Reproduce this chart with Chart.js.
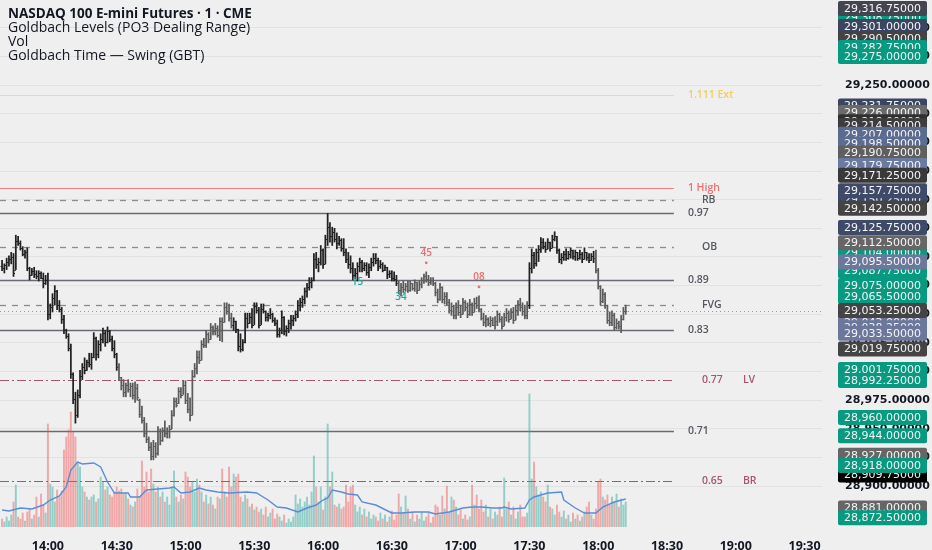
<!DOCTYPE html>
<html>
<head>
<meta charset="utf-8">
<script src="https://cdn.jsdelivr.net/npm/chart.js@4.4.1/dist/chart.umd.min.js"></script>
<style>
  html, body { margin: 0; padding: 0; background: #efefef; }
  #wrap { position: relative; width: 932px; height: 550px; }
  #legend { position: absolute; left: 8px; top: 6px; font: 14px 'Open Sans', sans-serif; color: #131722; line-height: 14px; pointer-events: none; }
  #legend .title { font-weight: 700; font-size: 13.5px; }
</style>
</head>
<body>
<div id="wrap">
  <canvas id="chart" width="932" height="550"></canvas>
  <div id="legend">
    <div class="title">NASDAQ 100 E-mini Futures · 1 · CME</div>
    <div>Goldbach Levels (PO3 Dealing Range)</div>
    <div>Vol</div>
    <div>Goldbach Time — Swing (GBT)</div>
  </div>
</div>
<script>
// 1-minute bars, first bar at 13:40 (index = minutes after 13:40)
const opens = [
  29092,29090,29093,29096,29098,29100,29089,29114,29112,29108,
  29103,29104,29090,29084,29088,29085,29083,29086,29082,29077,
  29080,29050,29056,29064,29070,29058,29055,29046,29036,29031,
  29021,28998,28976,28962,28980,28996,29004,29001,29008,29007,
  29013,29029,29015,29024,29028,29034,29026,29035,29028,29021,
  29015,29004,28995,28988,28982,28988,28985,28987,28980,28986,
  28975,28963,28958,28946,28941,28934,28926,28935,28929,28948,
  28940,28949,28946,28948,28950,28962,28974,28973,28983,28980,
  28988,28975,28967,28962,28996,29003,29013,29010,29024,29023,
  29033,29028,29039,29035,29038,29032,29044,29043,29056,29053,
  29047,29041,29044,29037,29022,29020,29026,29047,29042,29048,
  29041,29057,29054,29041,29055,29053,29048,29049,29050,29045,
  29042,29033,29036,29048,29035,29038,29042,29045,29047,29050,
  29058,29061,29063,29070,29074,29078,29080,29098,29094,29096,
  29106,29094,29116,29126,29118,29122,29116,29112,29115,29108,
  29104,29098,29094,29090,29084,29086,29092,29096,29090,29093,
  29087,29091,29096,29099,29097,29092,29094,29089,29091,29085,
  29086,29082,29081,29077,29071,29074,29072,29075,29071,29077,
  29073,29078,29071,29076,29080,29083,29081,29078,29080,29077,
  29069,29063,29074,29063,29066,29061,29054,29057,29049,29056,
  29052,29050,29061,29056,29050,29059,29052,29060,29058,29055,
  29047,29043,29046,29042,29045,29041,29044,29050,29046,29040,
  29048,29051,29046,29052,29045,29054,29059,29056,29053,29049,
  29058,29090,29102,29095,29104,29107,29113,29110,29107,29113,
  29108,29116,29118,29106,29098,29100,29103,29099,29103,29106,
  29101,29104,29099,29103,29098,29104,29100,29097,29101,29099,
  29089,29075,29062,29068,29058,29045,29043,29049,29039,29042,
  29040,29046,29053
];
const highs = [
  29097,29094,29099,29101,29104,29103,29119,29118,29114,29109,
  29106,29108,29091,29090,29091,29088,29088,29087,29086,29084,
  29086,29059,29068,29075,29071,29062,29056,29049,29037,29033,
  29024,28999,28982,28984,29001,29007,29012,29010,29016,29016,
  29034,29030,29027,29033,29038,29036,29039,29036,29031,29027,
  29016,29007,28995,28993,28990,28993,28990,28990,28991,28989,
  28976,28970,28960,28955,28943,28938,28940,28938,28952,28950,
  28951,28957,28951,28953,28966,28977,28977,28986,28986,28992,
  28992,28981,28977,29001,29007,29018,29018,29027,29029,29036,
  29034,29042,29040,29042,29040,29047,29047,29060,29060,29059,
  29051,29047,29044,29037,29033,29028,29051,29051,29051,29055,
  29060,29060,29056,29059,29059,29053,29051,29055,29051,29047,
  29045,29038,29053,29048,29040,29045,29049,29049,29053,29062,
  29064,29066,29073,29077,29082,29082,29103,29104,29099,29110,
  29107,29119,29138,29130,29126,29125,29121,29118,29116,29116,
  29107,29104,29101,29095,29090,29095,29099,29097,29095,29095,
  29094,29099,29103,29103,29099,29097,29095,29093,29091,29088,
  29088,29087,29084,29079,29077,29079,29077,29079,29079,29077,
  29080,29078,29079,29082,29085,29087,29084,29082,29082,29078,
  29072,29077,29074,29069,29069,29063,29060,29058,29060,29062,
  29058,29064,29062,29060,29063,29060,29064,29065,29066,29055,
  29051,29049,29047,29048,29047,29048,29053,29051,29048,29051,
  29055,29053,29055,29056,29058,29062,29064,29060,29058,29061,
  29095,29107,29104,29107,29110,29117,29116,29113,29116,29113,
  29119,29122,29118,29107,29103,29105,29107,29105,29108,29106,
  29106,29104,29106,29104,29108,29104,29103,29103,29105,29106,
  29090,29075,29072,29069,29058,29052,29053,29051,29046,29044,
  29049,29056,29058
];
const lows = [
  29088,29086,29089,29092,29094,29083,29089,29110,29106,29101,
  29099,29088,29080,29084,29082,29081,29079,29081,29073,29076,
  29045,29046,29052,29058,29054,29052,29042,29033,29029,29018,
  28994,28972,28955,28960,28977,28993,28998,29001,29004,29002,
  29012,29010,29012,29018,29025,29022,29025,29026,29018,29012,
  29001,28992,28984,28978,28978,28982,28978,28976,28973,28975,
  28960,28955,28943,28938,28931,28923,28923,28925,28927,28936,
  28939,28943,28942,28942,28950,28961,28969,28972,28977,28980,
  28972,28964,28957,28962,28995,28998,29007,29010,29021,29021,
  29025,29028,29032,29032,29030,29027,29026,29043,29050,29044,
  29038,29036,29034,29018,29017,29018,29025,29038,29042,29038,
  29041,29051,29038,29041,29051,29044,29044,29046,29043,29040,
  29030,29030,29033,29032,29031,29034,29037,29040,29044,29047,
  29053,29056,29059,29065,29071,29073,29079,29090,29087,29093,
  29090,29094,29110,29113,29110,29113,29107,29110,29105,29101,
  29095,29090,29086,29080,29081,29079,29087,29087,29088,29084,
  29082,29088,29092,29094,29088,29090,29087,29088,29081,29082,
  29079,29079,29075,29068,29066,29069,29070,29069,29070,29071,
  29070,29068,29071,29073,29077,29078,29075,29076,29075,29066,
  29060,29062,29060,29059,29058,29051,29049,29046,29046,29049,
  29047,29050,29053,29047,29049,29049,29052,29055,29052,29045,
  29040,29039,29040,29039,29040,29037,29040,29043,29037,29040,
  29044,29043,29046,29042,29045,29049,29053,29049,29046,29046,
  29055,29086,29090,29092,29096,29104,29107,29104,29107,29105,
  29108,29114,29103,29095,29094,29097,29097,29098,29099,29098,
  29097,29097,29098,29095,29098,29097,29095,29097,29095,29086,
  29072,29058,29060,29055,29042,29040,29040,29036,29037,29037,
  29034,29045,29050
];
const closes = [
  29090,29093,29096,29098,29100,29086,29114,29112,29108,29103,
  29104,29090,29084,29088,29085,29083,29086,29082,29077,29080,
  29050,29056,29064,29070,29058,29055,29046,29036,29031,29021,
  28998,28976,28962,28980,28996,29004,29001,29008,29007,29013,
  29029,29015,29024,29028,29034,29026,29035,29028,29021,29015,
  29004,28995,28988,28982,28988,28985,28987,28980,28986,28978,
  28963,28958,28946,28941,28934,28926,28935,28929,28948,28940,
  28949,28946,28948,28950,28962,28974,28971,28983,28980,28988,
  28975,28967,28962,28996,29003,29013,29010,29024,29023,29033,
  29028,29039,29035,29038,29032,29044,29043,29056,29053,29047,
  29041,29044,29037,29022,29020,29026,29047,29042,29048,29041,
  29057,29054,29041,29055,29053,29048,29049,29050,29045,29042,
  29033,29036,29048,29035,29038,29042,29045,29047,29050,29058,
  29061,29063,29070,29074,29078,29080,29098,29094,29096,29106,
  29094,29116,29126,29118,29122,29116,29112,29115,29108,29104,
  29098,29094,29090,29084,29086,29092,29096,29090,29093,29087,
  29091,29096,29099,29097,29092,29094,29089,29091,29085,29086,
  29082,29081,29077,29071,29074,29072,29075,29071,29077,29073,
  29078,29071,29076,29080,29083,29081,29078,29080,29077,29069,
  29063,29074,29063,29066,29061,29054,29057,29049,29056,29052,
  29050,29061,29056,29050,29059,29052,29060,29058,29055,29047,
  29043,29046,29042,29045,29041,29044,29050,29046,29040,29048,
  29051,29046,29052,29045,29054,29059,29056,29053,29049,29058,
  29090,29102,29095,29104,29107,29113,29110,29107,29113,29108,
  29116,29118,29106,29098,29100,29103,29099,29103,29106,29101,
  29104,29099,29103,29098,29104,29100,29097,29101,29099,29089,
  29075,29062,29068,29058,29045,29043,29049,29039,29042,29040,
  29046,29053,29053.25
];
const volumes = [
  80,50,100,60,120,250,420,100,80,140,
  60,150,180,80,120,300,100,330,220,140,
  1030,430,400,250,370,300,360,770,900,970,
  1150,950,900,650,600,400,350,300,270,300,
  320,250,280,500,450,370,400,320,300,350,
  400,360,380,330,340,280,220,200,250,380,
  300,660,400,550,350,580,430,350,400,300,
  350,250,300,220,400,560,300,250,320,280,
  550,500,400,450,350,480,420,350,250,320,
  230,300,220,180,300,280,580,350,300,600,
  400,530,500,530,300,250,320,280,200,230,
  170,200,150,180,120,200,100,140,180,80,
  130,100,60,120,40,80,50,100,320,230,
  280,200,250,300,220,350,710,400,250,400,
  170,300,1030,400,550,220,200,230,180,200,
  420,250,400,420,220,150,200,120,180,100,
  150,80,120,100,60,140,80,120,50,100,
  160,70,120,330,200,140,310,180,80,150,
  50,120,80,150,60,100,140,40,100,220,
  200,120,310,180,410,150,300,270,200,120,
  170,80,120,70,100,420,220,320,180,270,
  150,220,100,180,80,150,120,200,100,490,
  180,250,120,200,80,150,220,100,100,140,
  1330,480,650,400,320,350,300,250,420,200,
  180,120,220,150,100,160,80,120,50,140,
  80,120,60,100,150,200,250,120,80,180,
  450,480,300,270,320,220,300,250,330,200,
  280,220,250
];
// volume moving average
const maTimes = [0,3,8,13,18,21,25,28,30,33,35,40,43,46,49,55,56,60,63,68,
  73,75,78,82,86,89,94,99,107,111,116,120,124,129,133,137,140,142,144,148,
  151,155,157,163,170,174,180,186,189,195,201,205,209,214,218,219,222,228,230,232,
  235,238,244,245,250,254,259,262,267,272];
const maValues = [170,160,190,180,220,270,310,400,570,650,630,640,600,450,340,340,300,300,370,380,
  390,400,340,350,390,370,350,340,350,340,270,200,190,150,190,220,270,290,370,350,
  330,320,250,220,140,140,150,150,130,150,190,200,200,190,190,200,180,190,270,300,
  320,340,350,270,190,140,140,200,250,280];

const tickMinutes = [20,50,80,110,140,170,200,230,260,290,320,350];
const tickLabels = ['14:00','14:30','15:00','15:30','16:00','16:30','17:00','17:30','18:00','18:30','19:00','19:30'];

// Goldbach dealing range levels
const levelNames = ['1.111 Ext','1 High','RB','0.97','OB','0.89','FVG','0.83','0.77','0.71','0.65'];
const levelTags = ['','','','','','','','','LV','','BR'];
const levelPrices = [29241.5,29160.5,29149.75,29138.25,29109,29080,29058,29036.25,28992.25,28948.5,28904.5];
const levelKinds = ['ext','high','dash','solid','dash','solid','dash','solid','dashdot','solid','dashdot'];
const levelEnd = 293;

// Goldbach time swing labels
const gbtTimes = [155,174,185,208];
const gbtTexts = ['15','34','45','08'];
const gbtSides = ['low','low','high','high'];

// price scale labels, in drawing order
const axisLabelPrices = [29308.75,29301,29316.75,29290.5,29282.75,29275,29231.75,29226,29218,29214.5,
  29207,29198.5,29190.75,29179.75,29171.25,29150.25,29157.75,29142.5,29125.75,29104,
  29112.5,29087.75,29095.5,29075,29065.5,29043,29038.25,29053.25,29033.5,29019.75,
  29001.75,28992.25,28960,28944,28927,28909.75,28918,28881,28872.5];

// ---- styles ----
const TEAL = '#089981';
const axisLabelFills = [TEAL,'#3b4560','#434651','#434343',TEAL,TEAL,'#3b4560','#6a6a6a','#303030','#3d3d3d',
  '#5b6a8f','#5d6c91','#5f5f5f','#6a7aa0','#393939','#3e4a68','#3e4a68','#444444','#3e4a68',TEAL,
  '#666666',TEAL,'#6b789c',TEAL,TEAL,'#6b789c','#6b789c','#444444','#6b789c','#444444',
  TEAL,TEAL,TEAL,TEAL,'#666666','#000000',TEAL,'#666666',TEAL];

const levelStyles = {
  ext:     { line: '#f5d98a', width: 1,   dash: [],          text: '#f3cd5e', off: 14 },
  high:    { line: '#f07c7c', width: 1,   dash: [],          text: '#ef6f72', off: 14 },
  dash:    { line: '#8c8c8c', width: 1.3, dash: [6, 6],      text: '#55585f', off: 28 },
  solid:   { line: '#686b73', width: 1.3, dash: [],          text: '#55585f', off: 14 },
  dashdot: { line: '#a3586f', width: 1.2, dash: [9, 3, 2, 3], text: '#a3586f', off: 28 }
};

const toneStarts = [0, 51, 101, 173, 230, 259];
const toneColors = ['#222222', '#5c5c5c', '#222222', '#5c5c5c', '#222222', '#5c5c5c'];

const times = opens.map((_, i) => i);
const barTone = times.map(i => {
  let k = 0;
  while (k + 1 < toneStarts.length && i >= toneStarts[k + 1]) k++;
  return toneColors[k];
});
const volColors = times.map(i => closes[i] >= opens[i] ? 'rgba(38,166,154,0.45)' : 'rgba(239,83,80,0.45)');

function fmtPrice(v) {
  return v.toLocaleString('en-US', { minimumFractionDigits: 5, maximumFractionDigits: 5 });
}

const bgPlugin = {
  id: 'bg',
  beforeDraw(chart) {
    const c = chart.ctx;
    c.save();
    c.fillStyle = '#efefef';
    c.fillRect(0, 0, chart.width, chart.height);
    c.restore();
  }
};

const levelPlugin = {
  id: 'levels',
  beforeDatasetsDraw(chart) {
    const { ctx, chartArea, scales: { x, y } } = chart;
    const xEnd = x.getPixelForValue(levelEnd);
    ctx.save();
    // last price line
    const lp = Math.round(y.getPixelForValue(closes[closes.length - 1])) + 0.5;
    ctx.strokeStyle = '#4fc0a8';
    ctx.lineWidth = 1;
    ctx.setLineDash([1, 3]);
    ctx.beginPath(); ctx.moveTo(chartArea.left, lp); ctx.lineTo(chartArea.right, lp); ctx.stroke();

    ctx.font = '600 10.5px "Open Sans"';
    ctx.textBaseline = 'middle';
    levelPrices.forEach((p, k) => {
      const st = levelStyles[levelKinds[k]];
      const py = Math.round(y.getPixelForValue(p)) + 0.5;
      ctx.strokeStyle = st.line;
      ctx.lineWidth = st.width;
      ctx.setLineDash(st.dash);
      ctx.beginPath(); ctx.moveTo(chartArea.left, py); ctx.lineTo(xEnd, py); ctx.stroke();
      ctx.fillStyle = st.text;
      ctx.fillText(levelNames[k], xEnd + st.off, py);
      if (levelTags[k]) ctx.fillText(levelTags[k], xEnd + 69, py);
    });
    ctx.restore();
  }
};

const ohlcPlugin = {
  id: 'ohlc',
  afterDatasetsDraw(chart) {
    const { ctx, scales: { x, y } } = chart;
    ctx.save();
    ctx.lineWidth = 1;
    times.forEach(i => {
      const px = x.getPixelForValue(i);
      const yo = Math.round(y.getPixelForValue(opens[i])) + 0.5;
      const yc = Math.round(y.getPixelForValue(closes[i])) + 0.5;
      ctx.strokeStyle = barTone[i];
      ctx.beginPath();
      ctx.moveTo(px - 1.5, yo); ctx.lineTo(px, yo);
      ctx.moveTo(px, yc); ctx.lineTo(px + 1.5, yc);
      ctx.stroke();
    });
    ctx.font = '600 10px "Open Sans"';
    ctx.textAlign = 'center';
    ctx.textBaseline = 'middle';
    gbtTimes.forEach((t, k) => {
      const px = x.getPixelForValue(t);
      if (gbtSides[k] === 'low') {
        ctx.fillStyle = '#26a69a';
        ctx.fillText(gbtTexts[k], px, y.getPixelForValue(lows[t]) + 1);
      } else {
        const yh = y.getPixelForValue(highs[t]);
        ctx.fillStyle = '#f06d6d';
        ctx.beginPath(); ctx.arc(px, yh - 9, 1.4, 0, Math.PI * 2); ctx.fill();
        ctx.fillText(gbtTexts[k], px, yh - 19);
      }
    });
    ctx.restore();
  }
};

const axisLabelPlugin = {
  id: 'axisLabels',
  afterDraw(chart) {
    const { ctx, scales: { y } } = chart;
    ctx.save();
    ctx.font = '11px "DejaVu Sans"';
    ctx.textBaseline = 'middle';
    axisLabelPrices.forEach((p, k) => {
      const py = y.getPixelForValue(p);
      ctx.fillStyle = axisLabelFills[k];
      ctx.beginPath();
      ctx.roundRect(y.left + 16, py - 7.5, 89, 15, 2);
      ctx.fill();
      ctx.fillStyle = '#f4f4f4';
      ctx.fillText(fmtPrice(p), y.left + 22, py + 0.5);
    });
    ctx.restore();
  }
};

new Chart(document.getElementById('chart'), {
  type: 'bar',
  data: {
    datasets: [
      {
        type: 'bar',
        label: 'NQ',
        data: times.map(i => ({ x: i, y: [lows[i], highs[i]] })),
        yAxisID: 'y',
        backgroundColor: barTone,
        barThickness: 1.1,
        grouped: false,
        order: 1
      },
      {
        type: 'line',
        label: 'Vol MA',
        data: maTimes.map((t, k) => ({ x: t, y: maValues[k] })),
        yAxisID: 'yv',
        borderColor: '#5b8cd8',
        borderWidth: 1.4,
        pointRadius: 0,
        tension: 0,
        order: 2
      },
      {
        type: 'bar',
        label: 'Vol',
        data: times.map(i => ({ x: i, y: volumes[i] })),
        yAxisID: 'yv',
        backgroundColor: volColors,
        barThickness: 1.3,
        grouped: false,
        order: 3
      }
    ]
  },
  options: {
    responsive: false,
    animation: false,
    events: [],
    layout: { padding: 0, autoPadding: false },
    plugins: { legend: { display: false }, tooltip: { enabled: false } },
    scales: {
      x: {
        type: 'linear',
        min: -0.9,
        max: 357.6,
        offset: false,
        grid: { display: false },
        border: { display: false },
        afterBuildTicks(s) { s.ticks = tickMinutes.map(v => ({ value: v })); },
        afterFit(s) { s.height = 23; s.paddingLeft = 0; s.paddingRight = 0; },
        ticks: {
          autoSkip: false,
          maxRotation: 0,
          padding: 4,
          color: '#131722',
          font: { family: 'Open Sans', size: 12.5, weight: '700' },
          callback(v) { const k = tickMinutes.indexOf(v); return k < 0 ? '' : tickLabels[k]; }
        }
      },
      y: {
        position: 'right',
        min: 28864.4,
        max: 29324.2,
        grid: { color: '#e2e2e2', drawTicks: false },
        border: { display: false },
        afterBuildTicks(s) { s.ticks = s.ticks.filter(t => Math.abs(t.value / 25 - Math.round(t.value / 25)) < 1e-6); },
        afterFit(s) { s.width = 110; s.paddingTop = 0; s.paddingBottom = 0; },
        ticks: {
          stepSize: 25,
          padding: 23,
          color: '#131722',
          font: { family: 'DejaVu Sans', size: 11, weight: 'bold' },
          callback(v) { return fmtPrice(v); }
        }
      },
      yv: { display: false, min: 0, max: 5270 }
    }
  },
  plugins: [bgPlugin, levelPlugin, ohlcPlugin, axisLabelPlugin]
});
</script>
</body>
</html>
